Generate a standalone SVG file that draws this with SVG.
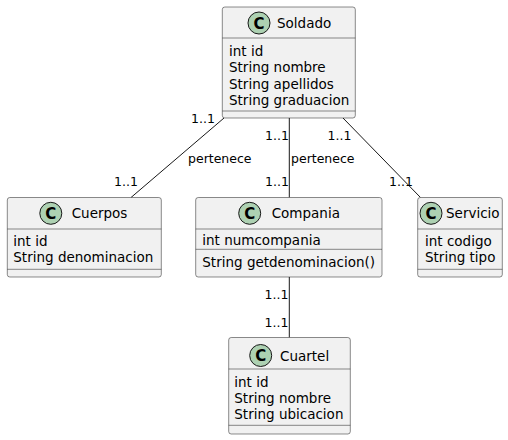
<svg xmlns="http://www.w3.org/2000/svg" width="508" height="440" viewBox="0 0 508 440">
<style>
.box{fill:#F1F1F1;stroke:#181818;stroke-width:0.5}
.sep{stroke:#181818;stroke-width:0.5}
.ic{fill:#ADD1B2;stroke:#181818;stroke-width:1}
.icl{font-family:"DejaVu Sans",sans-serif;font-size:15px;font-weight:bold;fill:#000;text-anchor:middle}
.nm{font-family:"DejaVu Sans",sans-serif;font-size:13.5px;fill:#000}
.at{font-family:"DejaVu Sans",sans-serif;font-size:13.5px;fill:#000}
.lb{font-family:"DejaVu Sans",sans-serif;font-size:12.5px;fill:#000}
.ln{stroke:#181818;stroke-width:1;fill:none}
</style>
<rect width="508" height="440" fill="#FFFFFF"/>
<g id="connectors">
<line class="ln" x1="224" y1="118" x2="131" y2="197.5"/>
<line class="ln" x1="289.3" y1="118" x2="289.3" y2="197.5"/>
<line class="ln" x1="343" y1="118" x2="420.5" y2="197.5"/>
<line class="ln" x1="289.3" y1="277" x2="289.3" y2="337.5"/>
<text class="lb" x="191" y="123">1..1</text>
<text class="lb" x="188" y="163">pertenece</text>
<text class="lb" x="114" y="186">1..1</text>
<text class="lb" x="265" y="140">1..1</text>
<text class="lb" x="291" y="163">pertenece</text>
<text class="lb" x="265" y="186">1..1</text>
<text class="lb" x="327.5" y="140">1..1</text>
<text class="lb" x="389" y="186">1..1</text>
<text class="lb" x="264.5" y="299">1..1</text>
<text class="lb" x="264.5" y="327">1..1</text>
</g>
<g id="Soldado">
<rect class="box" x="222.3" y="7" width="133" height="111" rx="2.5"/>
<line class="sep" x1="222.3" y1="38" x2="355.3" y2="38"/>
<line class="sep" x1="222.3" y1="111" x2="355.3" y2="111"/>
<circle class="ic" cx="259" cy="23" r="11"/>
<text class="icl" x="259" y="28.5">C</text>
<text class="nm" x="277" y="28">Soldado</text>
<text class="at" x="229" y="56">int id</text>
<text class="at" x="229" y="72.3">String nombre</text>
<text class="at" x="229" y="88.6">String apellidos</text>
<text class="at" x="229" y="104.9">String graduacion</text>
</g>
<g id="Cuerpos">
<rect class="box" x="7.3" y="197.5" width="154" height="79.5" rx="2.5"/>
<line class="sep" x1="7.3" y1="229" x2="161.3" y2="229"/>
<line class="sep" x1="7.3" y1="269.3" x2="161.3" y2="269.3"/>
<circle class="ic" cx="50.8" cy="213.3" r="11"/>
<text class="icl" x="50.8" y="218.8">C</text>
<text class="nm" x="71.7" y="218.3">Cuerpos</text>
<text class="at" x="13.3" y="246">int id</text>
<text class="at" x="13.3" y="262">String denominacion</text>
</g>
<g id="Compania">
<rect class="box" x="195.7" y="197.5" width="186.3" height="79.5" rx="2.5"/>
<line class="sep" x1="195.7" y1="229" x2="382" y2="229"/>
<line class="sep" x1="195.7" y1="249.3" x2="382" y2="249.3"/>
<circle class="ic" cx="249.7" cy="213.3" r="11"/>
<text class="icl" x="249.7" y="218.8">C</text>
<text class="nm" x="271.7" y="218.3">Compania</text>
<text class="at" x="202.3" y="245">int numcompania</text>
<text class="at" x="202.3" y="267">String getdenominacion()</text>
</g>
<g id="Servicio">
<rect class="box" x="417.7" y="197.5" width="84.6" height="79.5" rx="2.5"/>
<line class="sep" x1="417.7" y1="229" x2="502.3" y2="229"/>
<line class="sep" x1="417.7" y1="269.3" x2="502.3" y2="269.3"/>
<circle class="ic" cx="431" cy="213.3" r="11"/>
<text class="icl" x="431" y="218.8">C</text>
<text class="nm" x="446" y="218.3">Servicio</text>
<text class="at" x="425" y="246">int codigo</text>
<text class="at" x="425" y="262">String tipo</text>
</g>
<g id="Cuartel">
<rect class="box" x="228.7" y="337.5" width="121.6" height="96.5" rx="2.5"/>
<line class="sep" x1="228.7" y1="369" x2="350.3" y2="369"/>
<line class="sep" x1="228.7" y1="425.3" x2="350.3" y2="425.3"/>
<circle class="ic" cx="260.7" cy="355.5" r="11"/>
<text class="icl" x="260.7" y="361">C</text>
<text class="nm" x="280" y="360.5">Cuartel</text>
<text class="at" x="234.3" y="386.5">int id</text>
<text class="at" x="234.3" y="402.8">String nombre</text>
<text class="at" x="234.3" y="419">String ubicacion</text>
</g>
</svg>
